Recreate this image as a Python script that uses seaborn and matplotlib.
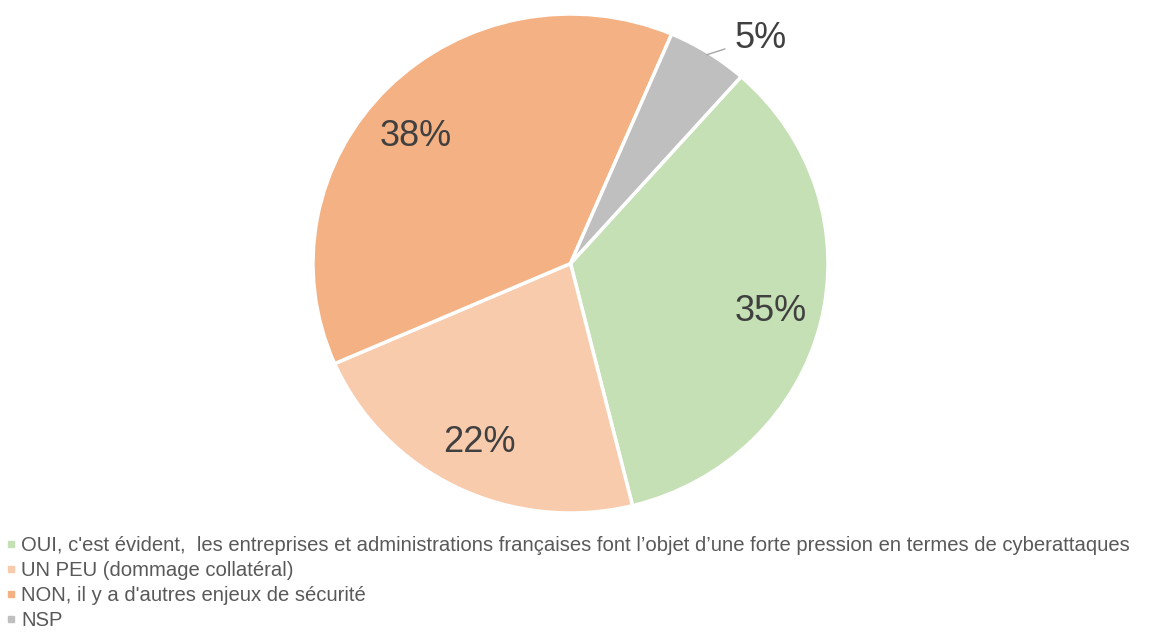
import numpy as np
import seaborn as sns
import matplotlib
matplotlib.use("Agg")
import matplotlib.pyplot as plt
from matplotlib.lines import Line2D

# =============================================================================
# Data
# =============================================================================
categories = [
    "OUI, c'est évident,  les entreprises et administrations françaises font l\u2019objet d\u2019une forte pression en termes de cyberattaques",
    "UN PEU (dommage collatéral)",
    "NON, il y a d'autres enjeux de sécurité",
    "NSP",
]
shares = [34.6, 22.3, 38.0, 5.1]
colors = ["#C5E0B4", "#F8CBAD", "#F4B183", "#BFBFBF"]

# =============================================================================
# Plotting
# =============================================================================
sns.set_theme(style="white")
plt.rcParams["font.family"] = ["Liberation Sans", "DejaVu Sans"]

fig = plt.figure(figsize=(11.58, 6.38), dpi=100)
ax = fig.add_axes([313 / 1158, 125 / 638, 515 / 1158, 499 / 638])

wedges, texts, autotexts = ax.pie(
    shares,
    colors=colors,
    startangle=48.5,
    counterclock=False,
    autopct="%.0f%%",
    pctdistance=0.8,
    wedgeprops=dict(edgecolor="white", linewidth=2.5),
    textprops=dict(fontsize=26, color="#404040"),
)
ax.set_aspect("auto")
ax.set_xlim(-1, 1)
ax.set_ylim(-1, 1)

# label of the big orange slice sits a little lower in the original
autotexts[2].set_position((-0.60, 0.51))

# small slice label moved outside with a leader line
w = wedges[-1]
mid = np.deg2rad((w.theta1 + w.theta2) / 2)
lbl = autotexts[-1]
lbl.set_position((0.74, 0.90))
ax.plot([np.cos(mid) * 0.99, 0.60], [np.sin(mid) * 0.99, 0.86],
        color="#A6A6A6", linewidth=1, clip_on=False)

# Legend
handles = [Line2D([0], [0], marker="s", linestyle="", markersize=4,
                  markerfacecolor=c, markeredgecolor=c) for c in colors]
fig.legend(handles, categories, loc="upper left", bbox_to_anchor=(0.005, 0.16),
           frameon=False, fontsize=14.6, labelcolor="#595959",
           handlelength=0.5, handletextpad=0.25, labelspacing=0.3,
           borderpad=0, borderaxespad=0)

fig.savefig("out.png", dpi=100, facecolor="white")
